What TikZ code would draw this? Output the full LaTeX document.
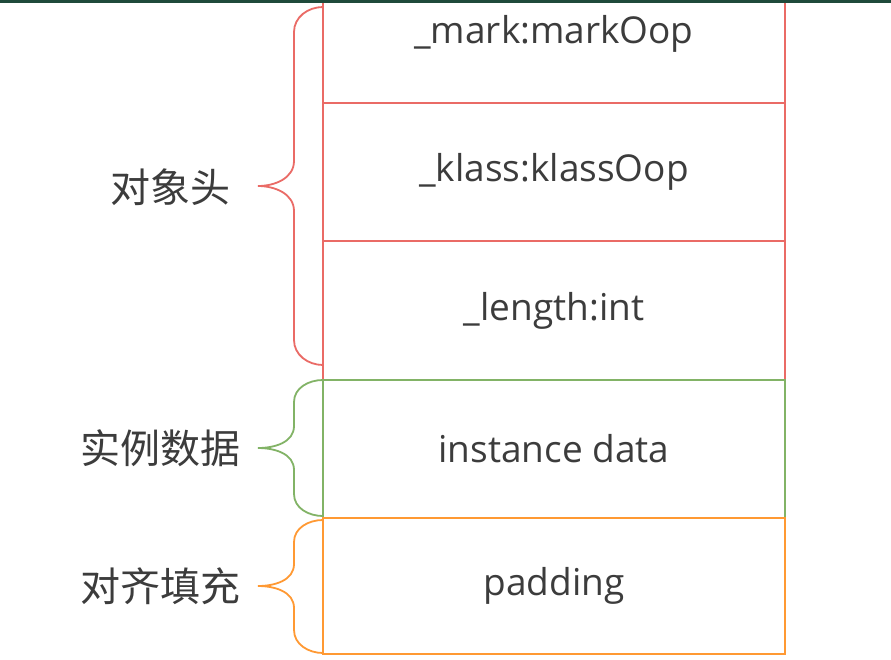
\documentclass[tikz,border=0pt]{standalone}
\usepackage{fontspec}
\setmainfont{Open Sans}
\newfontfamily\cjk{Noto Sans CJK SC}
\usepackage{xcolor}
\usetikzlibrary{calc,positioning}
\definecolor{headred}{HTML}{EA6B66}
\definecolor{datagreen}{HTML}{82B366}
\definecolor{padorange}{HTML}{FF9933}
\definecolor{textgray}{HTML}{3C3C3C}
\definecolor{topbar}{HTML}{1F4A3B}
\tikzset{
    row/.style={draw,line width=1.8pt,minimum width=462pt,inner sep=0pt,outer sep=0pt,
        text=textgray,font=\fontsize{37}{44}\selectfont},
    curly/.style={line width=1.8pt},
    side/.style={text=textgray,font=\cjk\fontsize{40}{48}\selectfont,inner sep=0pt}
}

\begin{document}
\begin{tikzpicture}[x=1pt,y=-1pt]
        \useasboundingbox (0,0) rectangle (891,659);
        \clip (0,0) rectangle (891,659);
        \fill[white] (0,0) rectangle (891,659);
        % object header
        \node[row,draw=headred,minimum height=138pt] (mark) at (554,34) {\_mark:markOop};
        \node[row,draw=headred,minimum height=138pt,below=0pt of mark] (klass) {\_klass:klassOop};
        \node[row,draw=headred,minimum height=139pt,below=0pt of klass] (length) {\_length:int};
        % instance data and padding
        \node[row,draw=datagreen,minimum height=138pt,below=0pt of length] (data) {instance data};
        \node[row,draw=padorange,minimum height=136pt,below=0pt of data] (padding) {padding};
        % braces
        \draw[curly,headred] (323,7) to[out=180,in=90] (294,32) -- (294,161)
            to[out=-90,in=0] (258,186) to[out=0,in=90] (294,211) -- (294,340)
            to[out=-90,in=180] (323,365);
        \draw[curly,datagreen] (323,380) to[out=180,in=90] (294,402) -- (294,426)
            to[out=-90,in=0] (258,448) to[out=0,in=90] (294,470) -- (294,494)
            to[out=-90,in=180] (323,516);
        \draw[curly,padorange] (323,520) to[out=180,in=90] (294,542) -- (294,564)
            to[out=-90,in=0] (258,586) to[out=0,in=90] (294,608) -- (294,630)
            to[out=-90,in=180] (323,653);
        \node[side] (header) at (170,187) {对象头};
        \node[side] (instance) at (160,448) {实例数据};
        \node[side] (align) at (160,586) {对齐填充};
        \fill[topbar] (0,0) rectangle (891,2.5);
    \end{tikzpicture}
\end{document}
